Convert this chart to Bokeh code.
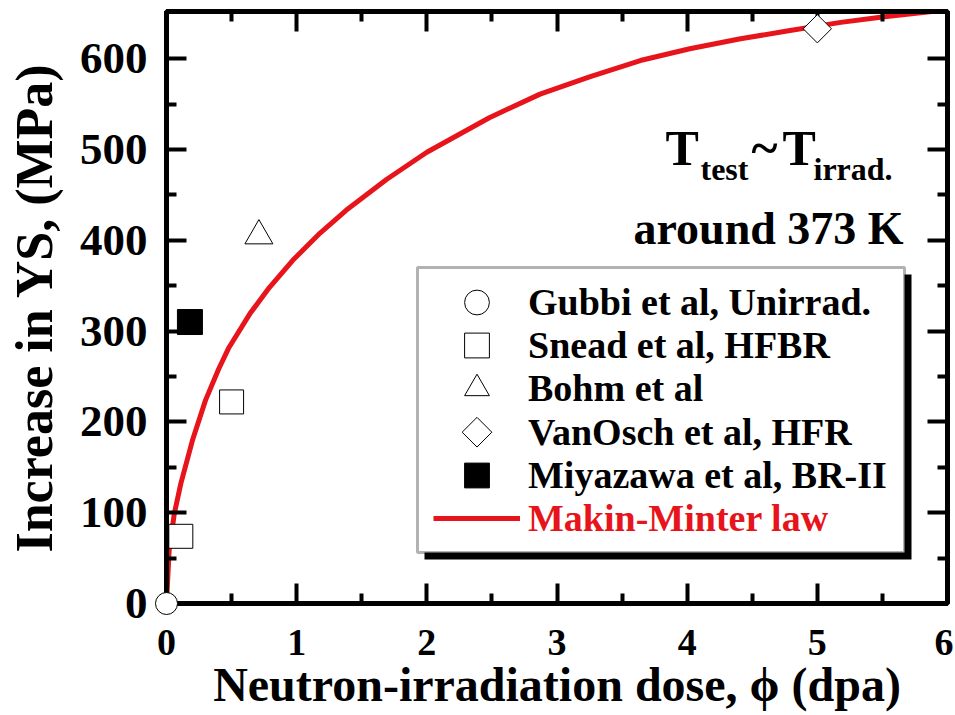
from bokeh.plotting import figure
from bokeh.models import (Range1d, LinearAxis, FixedTicker, Legend, LegendItem,
                          BoxAnnotation, Label)
from bokeh.embed import file_html
from bokeh.resources import INLINE
import numpy as np

# ---------------- data ----------------
gubbi_dose = [0.0]
gubbi_ys = [0]
snead_dose = [0.11, 0.50]
snead_ys = [74, 222]
bohm_dose = [0.71]
bohm_ys = [405]
vanosch_dose = [5.0]
vanosch_ys = [633]
miyazawa_dose = [0.18]
miyazawa_ys = [310]

fit_dose = [0, 0.02, 0.06, 0.11, 0.2, 0.3, 0.4, 0.48, 0.64, 0.79, 0.97, 1.18, 1.38,
            1.69, 2.0, 2.48, 2.87, 3.25, 3.64, 4.02, 4.41, 4.79, 5.18, 5.5, 5.81, 6.0]
fit_ys = [0, 58, 99, 132, 180, 224, 258, 282, 319, 348, 378, 408, 433,
          467, 497, 535, 561, 580, 598, 611, 622, 631, 640, 646, 651, 654]

x_major = [0, 1, 2, 3, 4, 5, 6]
x_minor = [0.5, 1.5, 2.5, 3.5, 4.5, 5.5]
y_major = [0, 100, 200, 300, 400, 500, 600]
y_minor = [50, 150, 250, 350, 450, 550]

legend_labels = ["Gubbi et al, Unirrad.", "Snead et al, HFBR", "Bohm et al",
                 "VanOsch et al, HFR", "Miyazawa et al, BR-II"]
fit_label = "Makin-Minter law"

# ---------------- layout ----------------
FONT = "Liberation Serif"
RED = "#e8141b"
FW, FH = 781, 592
X0, X1 = 0, 6
Y0, Y1 = 0, 652
FL, FT = 166, 11  # frame left/top in page pixels
FB = FT + FH


def px2x(px):
    return X0 + (px - FL) * (X1 - X0) / FW


def px2y(py):
    return Y0 + (FB - py) * (Y1 - Y0) / FH


p = figure(frame_width=FW, frame_height=FH,
           x_range=Range1d(X0, X1), y_range=Range1d(Y0, Y1),
           output_backend="svg", toolbar_location=None,
           min_border_left=FL, min_border_top=FT, min_border_right=6,
           min_border_bottom=100, background_fill_color="white",
           border_fill_color="white")
p.xgrid.visible = False
p.ygrid.visible = False
p.outline_line_color = "black"
p.outline_line_width = 5

xt = FixedTicker(ticks=x_major, minor_ticks=x_minor)
yt = FixedTicker(ticks=y_major, minor_ticks=y_minor)


def style_axis(ax, ticker, font_size, standoff, color="black"):
    ax.ticker = ticker
    ax.axis_line_width = 5
    ax.axis_line_color = "black"
    ax.major_tick_in = 20
    ax.major_tick_out = 0
    ax.minor_tick_in = 10
    ax.minor_tick_out = 0
    ax.major_tick_line_width = 4
    ax.minor_tick_line_width = 4
    ax.major_label_text_font = FONT
    ax.major_label_text_font_style = "bold"
    ax.major_label_text_font_size = font_size
    ax.major_label_text_color = color
    ax.major_label_standoff = standoff


xa = p.xaxis[0]
ya = p.yaxis[0]
style_axis(xa, xt, "38px", 26)
style_axis(ya, yt, "45px", 19)
xa.axis_label = "Neutron-irradiation dose, \u03d5 (dpa)"
ya.axis_label = "Increase in YS, (MPa)"
for ax, fs, so in ((xa, "48px", 0), (ya, "52px", 14)):
    ax.axis_label_text_font = FONT
    ax.axis_label_text_font_style = "bold"
    ax.axis_label_text_font_size = fs
    ax.axis_label_text_color = "black"
    ax.axis_label_standoff = so

top = LinearAxis()
right = LinearAxis()
style_axis(top, xt, "1px", 0, None)
style_axis(right, yt, "1px", 0, None)
p.add_layout(top, "above")
p.add_layout(right, "right")

# ---------------- curve and data ----------------
fit = p.line(fit_dose, fit_ys, line_color=RED, line_width=5)

common = dict(line_color="black", line_width=1, fill_color="white")
r_gubbi = p.scatter(gubbi_dose, gubbi_ys, marker="circle", size=22, level="overlay",
                    **common)
r_snead = p.scatter(snead_dose, snead_ys, marker="square", size=24, **common)
r_bohm = p.scatter(bohm_dose, bohm_ys, marker="triangle", size=28, **common)
r_vanosch = p.scatter(vanosch_dose, vanosch_ys, marker="square", angle=np.pi / 4,
                      size=20, level="overlay", **common)
r_miya = p.scatter(miyazawa_dose, miyazawa_ys, marker="square", size=25,
                   line_color="black", fill_color="black")

# ---------------- legend box with shadow ----------------
shadow = BoxAnnotation(left=px2x(424), right=px2x(911), top=px2y(274), bottom=px2y(559),
                       fill_color="black", fill_alpha=1, line_alpha=0)
box = BoxAnnotation(left=px2x(417), right=px2x(904), top=px2y(267), bottom=px2y(552),
                    fill_color="white", fill_alpha=1, line_color="black", line_width=3)
p.add_layout(shadow)
p.add_layout(box)

GLYPH_H = 62
GLYPH_X0 = 433
GLYPH_W = 87
row_centers = [301.7, 345.0, 388.3, 431.7, 475.0, 518.3]
# the VanOsch key (a square turned 45 degrees) is drawn separately below, because
# Bokeh legends ignore a marker's angle
entries = [(legend_labels[0], [r_gubbi], "black"),
           (legend_labels[1], [r_snead], "black"),
           (legend_labels[2], [r_bohm], "black"),
           (legend_labels[3], [], "black"),
           (legend_labels[4], [r_miya], "black"),
           (fit_label, [fit], RED)]

for (label, rends, color), cy in zip(entries, row_centers):
    lg = Legend(items=[LegendItem(label=label, renderers=rends)],
                location=(GLYPH_X0 - FL, FB - (cy + GLYPH_H / 2)), margin=0, padding=0,
                glyph_width=GLYPH_W, glyph_height=GLYPH_H, spacing=0, label_standoff=8,
                label_text_font=FONT, label_text_font_style="bold",
                label_text_font_size="38px", label_text_color=color,
                label_text_baseline="middle",
                background_fill_alpha=0, border_line_alpha=0)
    p.add_layout(lg)

key_x = GLYPH_X0 + GLYPH_W / 2
p.scatter([px2x(key_x)], [px2y(row_centers[3])], marker="square", angle=np.pi / 4,
          size=21, level="overlay", **common)


# ---------------- annotation text ----------------
def lab(text, px, py, size, align="left"):
    p.add_layout(Label(x=px2x(px), y=px2y(py), text=text, text_font=FONT,
                       text_font_style="bold", text_font_size=size,
                       text_color="black", text_align=align,
                       text_baseline="alphabetic"))


lab("T", 665, 147, "50px")
lab("test", 700, 168, "32px")
lab("~", 764, 147, "50px", "center")
lab("T", 782, 147, "50px")
lab("irrad.", 813, 168, "32px")
lab("around 373 K", 633, 228, "46px")

open("out.html", "w").write(file_html(p, INLINE))
